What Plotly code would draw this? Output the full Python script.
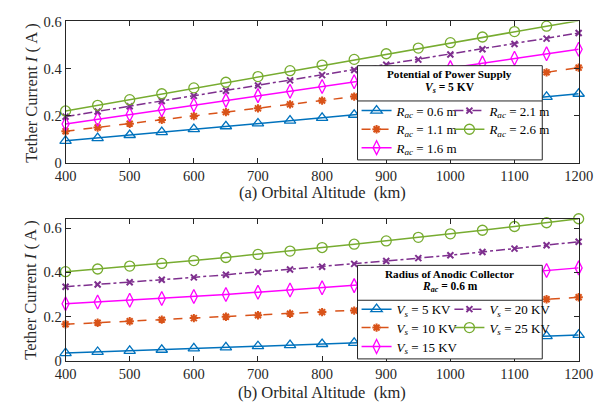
import plotly.graph_objects as go

W, H = 608, 414
FONT = "Liberation Serif, Times New Roman, serif"

altitude = [400, 450, 500, 550, 600, 650, 700, 750, 800, 850, 900, 950, 1000, 1050, 1100, 1150, 1200]

# (a) Vs = 5 KV, varying collector radius
I_a_R06 = [0.093, 0.105, 0.118, 0.130, 0.143, 0.155, 0.167, 0.179, 0.191, 0.204, 0.216, 0.229, 0.242, 0.255, 0.267, 0.280, 0.293]
I_a_R11 = [0.134, 0.150, 0.166, 0.182, 0.198, 0.215, 0.231, 0.248, 0.264, 0.281, 0.297, 0.314, 0.331, 0.348, 0.365, 0.384, 0.404]
I_a_R16 = [0.165, 0.185, 0.205, 0.225, 0.245, 0.265, 0.285, 0.304, 0.324, 0.344, 0.364, 0.384, 0.404, 0.424, 0.444, 0.463, 0.482]
I_a_R21 = [0.196, 0.218, 0.240, 0.262, 0.284, 0.306, 0.328, 0.350, 0.372, 0.394, 0.416, 0.438, 0.460, 0.482, 0.504, 0.527, 0.551]
I_a_R26 = [0.220, 0.244, 0.268, 0.293, 0.318, 0.342, 0.366, 0.391, 0.415, 0.439, 0.463, 0.487, 0.510, 0.534, 0.557, 0.580, 0.603]

# (b) Rac = 0.6 m, varying supply potential
I_b_V05 = [0.035, 0.040, 0.045, 0.050, 0.056, 0.061, 0.066, 0.071, 0.076, 0.081, 0.086, 0.092, 0.097, 0.102, 0.107, 0.112, 0.117]
I_b_V10 = [0.165, 0.172, 0.179, 0.186, 0.193, 0.199, 0.206, 0.213, 0.220, 0.227, 0.235, 0.242, 0.250, 0.259, 0.268, 0.278, 0.287]
I_b_V15 = [0.258, 0.266, 0.274, 0.282, 0.291, 0.300, 0.310, 0.320, 0.330, 0.340, 0.351, 0.362, 0.373, 0.384, 0.396, 0.408, 0.420]
I_b_V20 = [0.335, 0.345, 0.355, 0.366, 0.377, 0.389, 0.401, 0.413, 0.425, 0.438, 0.451, 0.464, 0.477, 0.492, 0.507, 0.522, 0.538]
I_b_V25 = [0.403, 0.415, 0.428, 0.440, 0.453, 0.467, 0.481, 0.496, 0.512, 0.527, 0.542, 0.558, 0.574, 0.590, 0.607, 0.624, 0.642]

R_labels = ["0.6", "1.1", "1.6", "2.1", "2.6"]
V_labels = ["5", "10", "15", "20", "25"]
x_ticks = [400, 500, 600, 700, 800, 900, 1000, 1100, 1200]
y_ticks = [0, 0.2, 0.4, 0.6]

series_a = [I_a_R06, I_a_R11, I_a_R16, I_a_R21, I_a_R26]
series_b = [I_b_V05, I_b_V10, I_b_V15, I_b_V20, I_b_V25]

colors = ["#0072BD", "#D95319", "#FF00FF", "#7E2F8E", "#77AC30"]
symbols = ["triangle-up-open", "asterisk-open", "diamond-tall-open", "x-thin-open", "circle-open"]
msizes = [10, 7, 10, 6, 10]
mlw = [1.3, 2, 1.3, 2, 1.3]
dashes = ["solid", "dash", "solid", "dashdot", "solid"]

def px(x):
    return x / W

def py(y):
    return 1 - y / H

fig = go.Figure()

# legend slot positions (pixels): column x, row y
col_x = [361, 458]
rows_a = [106.8, 126.2, 145.3]
rows_b = [313.3, 332.5, 352.2]
slots = [(0, 0), (0, 1), (0, 2), (1, 0), (1, 1)]

legends = {}
n = 0
for panel, (series, labels, rows) in enumerate([(series_a, R_labels, rows_a), (series_b, V_labels, rows_b)]):
    xa = "x" if panel == 0 else "x2"
    ya = "y" if panel == 0 else "y2"
    for k in range(5):
        n += 1
        lname = "legend" if n == 1 else f"legend{n}"
        if panel == 0:
            name = f"<i>R</i><sub><i>ac</i></sub> = {labels[k]} m"
        else:
            name = f"<i>V</i><sub><i>s</i></sub> = {labels[k]} KV"
        fig.add_trace(go.Scatter(
            x=altitude, y=series[k], xaxis=xa, yaxis=ya, name=name,
            mode="lines+markers", cliponaxis=False, legend=lname, showlegend=True,
            line=dict(color=colors[k], width=1.5, dash=dashes[k]),
            marker=dict(symbol=symbols[k], size=msizes[k], color=colors[k],
                        line=dict(color=colors[k], width=mlw[k])),
        ))
        c, r = slots[k]
        legends[lname] = dict(
            x=px(col_x[c]), y=py(rows[r]), xanchor="left", yanchor="middle",
            bgcolor="rgba(0,0,0,0)", borderwidth=0, itemwidth=30,
            font=dict(family=FONT, size=13, color="#000000"),
        )

axis_common = dict(
    showline=True, linecolor="#262626", linewidth=1, mirror="ticks",
    ticks="inside", ticklen=5, tickcolor="#262626", showgrid=False, zeroline=False,
    tickfont=dict(family=FONT, size=14.5, color="#262626"),
)

fig.update_layout(
    width=W, height=H, margin=dict(l=0, r=0, t=0, b=0),
    paper_bgcolor="white", plot_bgcolor="white", showlegend=True,
    xaxis=dict(domain=[px(57), px(593)], range=[400, 1200], tickvals=x_ticks, anchor="y", **axis_common),
    yaxis=dict(domain=[py(161), py(14)], range=[0, 0.6], tickvals=y_ticks, anchor="x", **axis_common),
    xaxis2=dict(domain=[px(57), px(593)], range=[400, 1200], tickvals=x_ticks, anchor="y2", **axis_common),
    yaxis2=dict(domain=[py(367), py(219)], range=[0, 0.643], tickvals=y_ticks, anchor="x2", **axis_common),
    **legends,
)

shapes = []
annotations = []
boxes = [
    (362, 60, 555, 158, 96.7, 69.0, 83.0, "Potential of Power Supply", "<b><i>V</i><sub><i>s</i></sub> = 5 KV</b>"),
    (362, 267.7, 555, 365, 304, 276.7, 290.5, "Radius of Anodic Collector", "<b><i>R</i><sub><i>ac</i></sub> = 0.6 m</b>"),
]
for x0, y0, x1, y1, ysep, yt1, yt2, t1, t2 in boxes:
    shapes.append(dict(type="rect", xref="paper", yref="paper", x0=px(x0), y0=py(y1), x1=px(x1), y1=py(y0),
                       fillcolor="white", line=dict(color="#262626", width=1), layer="above"))
    shapes.append(dict(type="line", xref="paper", yref="paper", x0=px(x0), y0=py(ysep), x1=px(x1), y1=py(ysep),
                       line=dict(color="#262626", width=1), layer="above"))
    annotations.append(dict(text=f"<b>{t1}</b>", x=px((x0 + x1) / 2), y=py(yt1), xref="paper", yref="paper",
                            showarrow=False, xanchor="center", yanchor="middle",
                            font=dict(family=FONT, size=11.2, color="#000000")))
    annotations.append(dict(text=t2, x=px((x0 + x1) / 2), y=py(yt2), xref="paper", yref="paper",
                            showarrow=False, xanchor="center", yanchor="middle",
                            font=dict(family=FONT, size=11.5, color="#000000")))

for text, yc in [("(a) Orbital Altitude\u00a0 (km)", 192), ("(b) Orbital Altitude\u00a0 (km)", 400)]:
    annotations.append(dict(text=text, x=px(325), y=py(yc), xref="paper", yref="paper", showarrow=False,
                            xanchor="center", yanchor="middle", font=dict(family=FONT, size=16.5, color="#262626")))
for yc in [88, 293]:
    annotations.append(dict(text="Tether Current <i>I</i> ( A )", x=px(21), y=py(yc), xref="paper", yref="paper",
                            showarrow=False, textangle=-90, xanchor="center", yanchor="middle",
                            font=dict(family=FONT, size=16.5, color="#262626")))

fig.update_layout(shapes=shapes, annotations=annotations)

fig.write_html("out.html")
